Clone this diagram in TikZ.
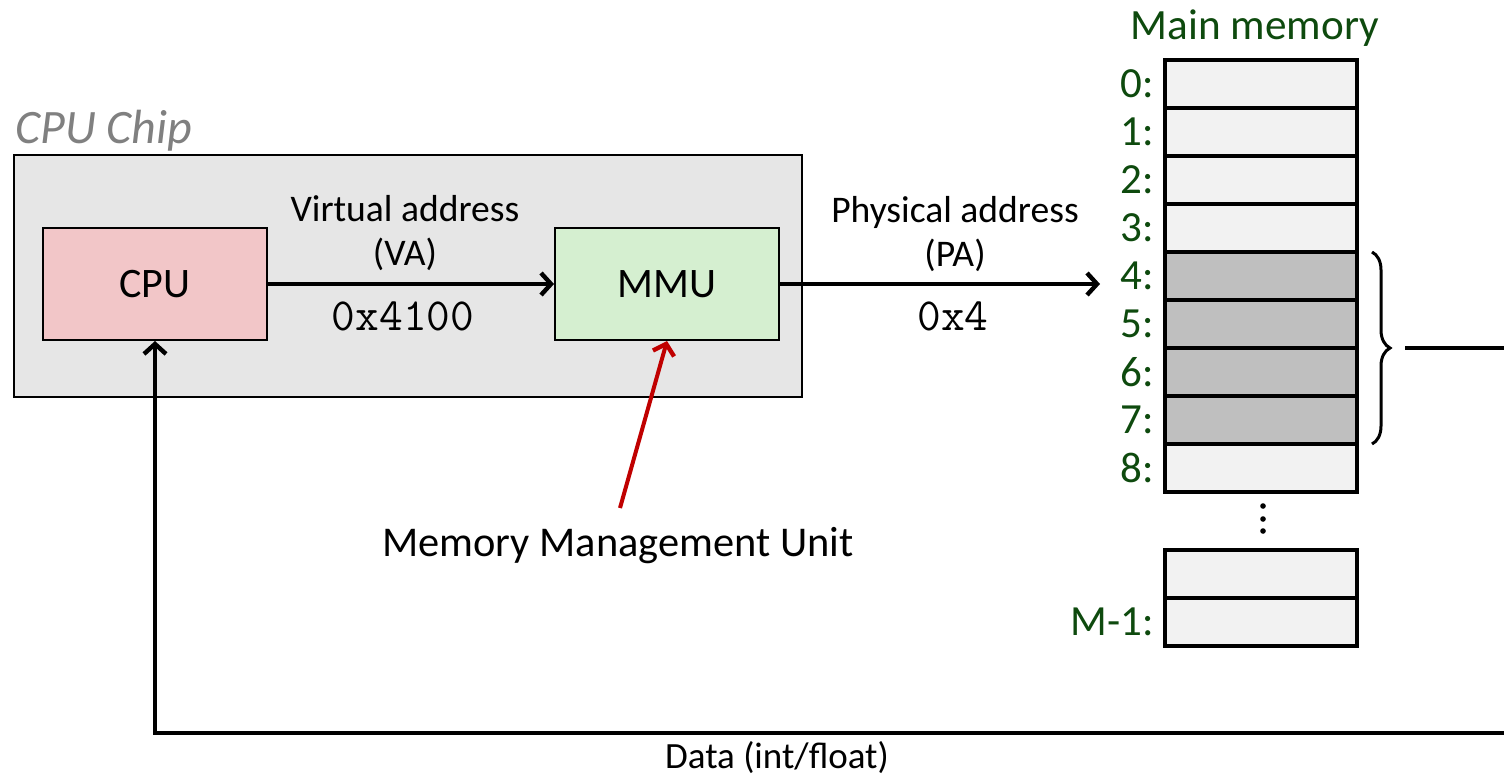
\documentclass[tikz,border=0pt]{standalone}
\usepackage{fontspec}
\setmainfont{Carlito}
\usetikzlibrary{positioning,arrows.meta,decorations.pathreplacing}

\definecolor{chipgray}{HTML}{E6E6E6}
\definecolor{cpupink}{HTML}{F2C6C8}
\definecolor{mmugreen}{HTML}{D5EFD0}
\definecolor{memgreen}{HTML}{0E4A0E}
\definecolor{lightcell}{HTML}{F2F2F2}
\definecolor{darkcell}{HTML}{BFBFBF}
\definecolor{notered}{HTML}{C00000}

\begin{document}
\begin{tikzpicture}[x=0.5pt,y=-0.5pt,
		unitbox/.style={draw,line width=1pt,minimum width=112pt,minimum height=56pt,font=\fontsize{21}{25}\selectfont},
		cell/.style={draw,line width=1.6pt,fill=lightcell,minimum width=96pt,minimum height=24pt,inner sep=0pt,outer sep=0pt},
		usedcell/.style={cell,fill=darkcell},
		memlabel/.style={text=memgreen,font=\fontsize{21.5}{25}\selectfont,label distance=2pt},
		wire/.style={line width=2pt},
		bigarrow/.style={wire,-{Straight Barb[length=5pt,width=11pt,line width=2.2pt]}}]
			\useasboundingbox (0,0) rectangle (1504,777);

			\node[draw,line width=1pt,fill=chipgray,minimum width=394pt,minimum height=121pt]	(chip)	at (408,276)	{};
			\node[anchor=south west,inner sep=1pt,text=gray,font=\fontsize{24}{28}\selectfont\itshape]	(chiplabel)	at (chip.north west)	{CPU Chip};

			\node[unitbox,fill=cpupink]				(cpu)	at (155,284)	{CPU};
			\node[unitbox,fill=mmugreen]			(mmu)	at (667,284)	{MMU};

			\node[align=center,font=\fontsize{18.8}{22}\selectfont]	(va)	at (405,233)	{Virtual address\\(VA)};
			\node[font=\fontsize{23}{27}\ttfamily]					(vanum)	at (403,316)	{0x4100};
			\node[align=center,font=\fontsize{18.8}{22}\selectfont]	(pa)	at (955,234)	{Physical address\\(PA)};
			\node[font=\fontsize{23}{27}\ttfamily]					(panum)	at (953,316)	{0x4};

			\node[text=memgreen,font=\fontsize{21.6}{26}\selectfont]	(memtitle)	at (1255,28)	{Main memory};

			\node[cell,label={[memlabel]left:{0:}}]							(c0)	at (1261,84)	{};
			\node[cell,node distance=0pt,below=of c0,label={[memlabel]left:{1:}}]		(c1)	{};
			\node[cell,node distance=0pt,below=of c1,label={[memlabel]left:{2:}}]		(c2)	{};
			\node[cell,node distance=0pt,below=of c2,label={[memlabel]left:{3:}}]		(c3)	{};
			\node[usedcell,node distance=0pt,below=of c3,label={[memlabel]left:{4:}}]	(c4)	{};
			\node[usedcell,node distance=0pt,below=of c4,label={[memlabel]left:{5:}}]	(c5)	{};
			\node[usedcell,node distance=0pt,below=of c5,label={[memlabel]left:{6:}}]	(c6)	{};
			\node[usedcell,node distance=0pt,below=of c6,label={[memlabel]left:{7:}}]	(c7)	{};
			\node[cell,node distance=0pt,below=of c7,label={[memlabel]left:{8:}}]		(c8)	{};

			\node[cell]															(d0)	at (1261,574)	{};
			\node[cell,node distance=0pt,below=of d0,label={[memlabel]left:{M-1:}}]	(d1)	{};

			\foreach \y in {506,519,531}
				\fill (1263,\y) circle (1.4pt);

			\node[font=\fontsize{21.2}{25}\selectfont]	(note)	at (618,546)	{Memory Management Unit};
			\node[inner sep=0pt,font=\fontsize{18.5}{22}\selectfont]	(datalabel)	at (777,758)	{Data (int/float)};

			\coordinate (notetail)	at (620,508);
			\coordinate (braceend)	at (1504,348);
			\coordinate (dataend)	at (1504,733);

			\draw[bigarrow] (cpu) -- (mmu);
			\draw[bigarrow] (mmu.east) -- (1100,284);
			\draw[bigarrow,notered] (notetail) -- (mmu.south);
			\draw[line width=1.5pt,decorate,decoration={brace,amplitude=9pt}] (1372,252) -- (1372,444);
			\draw[wire] (1405,348) -- (braceend);
			\draw[bigarrow] (dataend) -| (cpu.south);
		\end{tikzpicture}
\end{document}
